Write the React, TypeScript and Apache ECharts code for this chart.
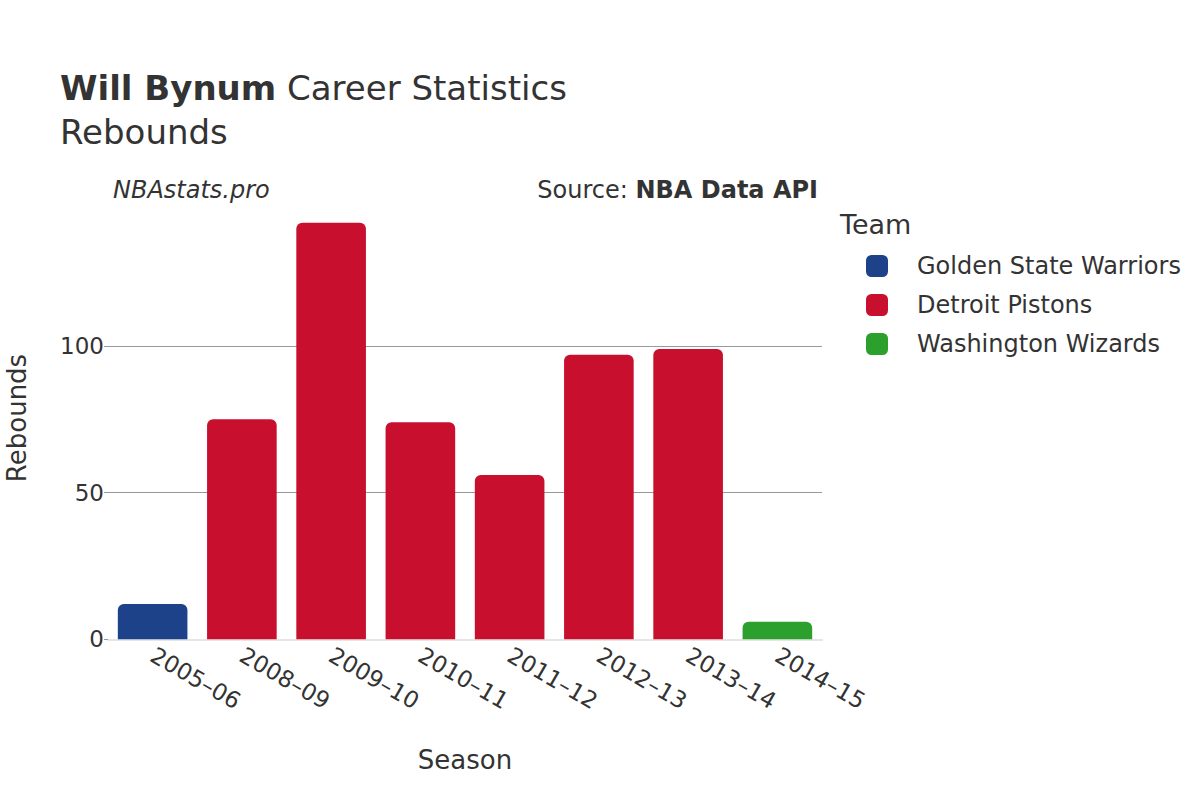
import React, { useEffect, useRef } from "react";
import * as echarts from "echarts";

const seasons = ["2005–06", "2008–09", "2009–10", "2010–11", "2011–12", "2012–13", "2013–14", "2014–15"];
const teams = ["Golden State Warriors", "Detroit Pistons", "Washington Wizards"];
const teamColors = ["#1D428A", "#C8102E", "#2CA02C"];
const warriorsRebounds = [12, null, null, null, null, null, null, null];
const pistonsRebounds = [null, 75, 142, 74, 56, 97, 99, null];
const wizardsRebounds = [null, null, null, null, null, null, null, 6];
const yTicks = { min: 0, max: 150, interval: 50 };

const FONT = "DejaVu Sans";
const TXT = "#333333";

export default function App() {
  const ref = useRef<HTMLDivElement>(null);
  useEffect(() => {
    if (!ref.current) return;
    const chart = echarts.init(ref.current, null, { renderer: "svg" });
    const seriesData = [warriorsRebounds, pistonsRebounds, wizardsRebounds];
    chart.setOption({
      animation: false,
      backgroundColor: "#ffffff",
      textStyle: { fontFamily: FONT },
      grid: { left: 108, right: 378, top: 199.4, bottom: 160.7, containLabel: false },
      legend: {
        orient: "vertical",
        left: 866,
        top: 254,
        padding: 0,
        icon: "roundRect",
        itemWidth: 22,
        itemHeight: 22,
        itemGap: 15,
        data: teams,
        textStyle: { fontFamily: FONT, fontSize: 24, color: TXT, padding: [0, 0, 0, 24] },
      },
      xAxis: {
        type: "category",
        data: seasons,
        axisLine: { show: true, lineStyle: { color: "#e6e6e6", width: 2 } },
        axisTick: { show: false },
        axisLabel: { rotate: -30, fontSize: 23, color: TXT, fontFamily: FONT, margin: 14 },
      },
      yAxis: {
        type: "value",
        min: yTicks.min,
        max: yTicks.max,
        interval: yTicks.interval,
        axisLine: { show: false },
        axisTick: { show: true, length: 4, lineStyle: { color: "#999999" } },
        axisLabel: { fontSize: 23, color: TXT, fontFamily: FONT, margin: 4, showMaxLabel: false },
        splitLine: { show: true, showMinLine: false, showMaxLine: false, lineStyle: { color: "#999999", width: 1 } },
      },
      series: teams.map((name, i) => ({
        name,
        type: "bar",
        stack: "all",
        barWidth: "78%",
        data: seriesData[i],
        itemStyle: { color: teamColors[i], borderRadius: [6, 6, 0, 0] },
      })),
      graphic: [
        {
          type: "text",
          left: 60,
          top: 71,
          style: {
            text: "{b|Will Bynum} Career Statistics",
            fontFamily: FONT,
            fontSize: 34,
            fill: TXT,
            rich: { b: { fontWeight: "bold", fontSize: 34, fontFamily: FONT, fill: TXT } },
          },
        },
        { type: "text", left: 60, top: 115, style: { text: "Rebounds", fontFamily: FONT, fontSize: 34, fill: TXT } },
        {
          type: "text",
          left: 113,
          top: 178,
          style: { text: "NBAstats.pro", fontFamily: FONT, fontStyle: "italic", fontSize: 24, fill: TXT },
        },
        {
          type: "text",
          right: 382,
          top: 178,
          style: {
            text: "Source: {b|NBA Data API}",
            fontFamily: FONT,
            fontSize: 24,
            fill: TXT,
            rich: { b: { fontWeight: "bold", fontSize: 24, fontFamily: FONT, fill: TXT } },
          },
        },
        { type: "text", left: 840, top: 211, style: { text: "Team", fontFamily: FONT, fontSize: 27, fill: TXT } },
        {
          type: "text",
          x: 17,
          y: 418,
          rotation: Math.PI / 2,
          style: { text: "Rebounds", fontFamily: FONT, fontSize: 26, fill: TXT, align: "center", verticalAlign: "middle" },
        },
        {
          type: "text",
          x: 465,
          y: 760,
          style: { text: "Season", fontFamily: FONT, fontSize: 26, fill: TXT, align: "center", verticalAlign: "middle" },
        },
      ],
    });
    return () => chart.dispose();
  }, []);
  return <div ref={ref} style={{ width: 1200, height: 800, position: "absolute", left: 0, top: 0 }} />;
}
